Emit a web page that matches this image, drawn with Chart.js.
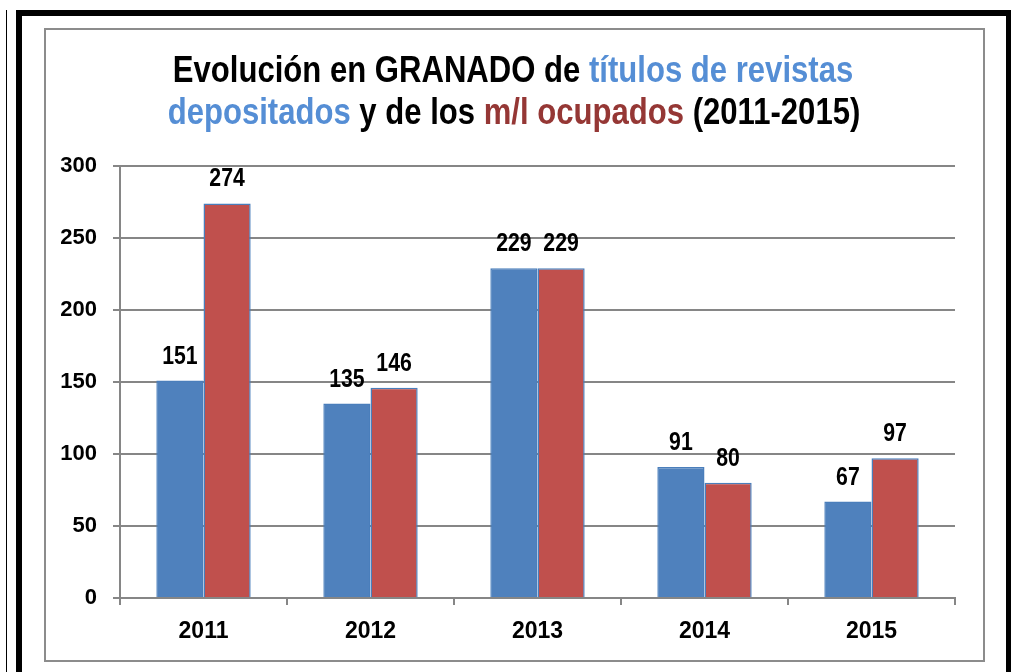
<!DOCTYPE html>
<html>
<head>
<meta charset="utf-8">
<script src="https://cdn.jsdelivr.net/npm/chart.js@4"></script>
<style>
html,body{margin:0;padding:0;background:#fff;}
#wrap{position:relative;width:1011px;height:672px;overflow:hidden;}
canvas{position:absolute;left:0;top:0;}
.b{position:absolute;background:#000;}
#inner{position:absolute;left:44px;top:28px;width:937px;height:630px;border:2px solid #8c8c8c;pointer-events:none;}
</style>
</head>
<body>
<div id="wrap">
<canvas id="c" width="1011" height="672"></canvas>
<div class="b" style="left:6px;top:10px;width:1px;height:662px;"></div>
<div class="b" style="left:16px;top:10px;width:6px;height:662px;"></div>
<div class="b" style="left:16px;top:10px;width:995px;height:6px;"></div>
<div class="b" style="left:1006px;top:10px;width:5px;height:662px;"></div>
<div id="inner"></div>
</div>
<script>
const categories = ['2011','2012','2013','2014','2015'];
const titulos = [151,135,229,91,67];
const metros = [274,146,229,80,97];
const yTicks = [0,50,100,150,200,250,300];
const titleLine1 = [['Evolución en GRANADO de ','#000000'],['títulos de revistas','#558ED5']];
const titleLine2 = [['depositados','#558ED5'],[' y de los ','#000000'],['m/l ocupados','#953735'],[' (2011-2015)','#000000']];

const FONT = '"Liberation Sans Narrow","Arial Narrow","Liberation Sans",Arial,sans-serif';

function drawNarrow(ctx, segs, cx, y, sx){
  const total = segs.reduce((s,x)=>s+ctx.measureText(x[0]).width,0);
  ctx.save();
  ctx.translate(cx, y);
  ctx.scale(sx, 1);
  let x = -total/2;
  segs.forEach(s=>{ctx.fillStyle=s[1];ctx.fillText(s[0],x,0);x+=ctx.measureText(s[0]).width;});
  ctx.restore();
}

const titlePlugin = {
  id:'mtitle',
  afterDraw(chart){
    const ctx = chart.ctx;
    ctx.save();
    ctx.font = 'bold 37px ' + FONT;
    ctx.textBaseline = 'alphabetic';
    ctx.textAlign = 'left';
    drawNarrow(ctx, titleLine1, 513, 82, 0.84);
    drawNarrow(ctx, titleLine2, 514, 124, 0.84);
    ctx.restore();
  }
};
const labelPlugin = {
  id:'vlabels',
  afterDatasetsDraw(chart){
    const ctx = chart.ctx;
    ctx.save();
    ctx.font = 'bold 25px ' + FONT;
    ctx.textAlign = 'left';
    ctx.textBaseline = 'alphabetic';
    chart.data.datasets.forEach((ds,i)=>{
      chart.getDatasetMeta(i).data.forEach((bar,j)=>{
        drawNarrow(ctx, [[String(ds.data[j]),'#000000']], bar.x, bar.y - 17, 0.85);
      });
    });
    ctx.restore();
  }
};

new Chart(document.getElementById('c'), {
  type:'bar',
  data:{
    labels:categories,
    datasets:[
      {label:'títulos de revistas depositados',data:titulos,backgroundColor:'#4F81BD',borderColor:'#4A7EBB',borderWidth:1.5},
      {label:'m/l ocupados',data:metros,backgroundColor:'#C0504D',borderColor:'#4A7EBB',borderWidth:1.5}
    ]
  },
  options:{
    responsive:false,
    animation:false,
    categoryPercentage:0.565,
    barPercentage:1,
    layout:{padding:{left:50,right:56,top:166,bottom:24}},
    plugins:{legend:{display:false},tooltip:{enabled:false},title:{display:false}},
    scales:{
      x:{
        grid:{offset:true,drawOnChartArea:false,color:'#868686',lineWidth:2,tickLength:7},
        border:{color:'#868686',width:2},
        ticks:{color:'#000',font:{family:FONT,size:23,weight:'bold'},padding:13},
        afterFit(s){s.height=50;}
      },
      y:{
        min:0,max:300,
        afterBuildTicks(s){s.ticks=yTicks.map(v=>({value:v}));},
        grid:{color:'#868686',lineWidth:2,tickLength:7},
        border:{color:'#868686',width:2},
        ticks:{color:'#000',font:{family:FONT,size:22,weight:'bold'},padding:16},
        afterFit(s){s.width=70;}
      }
    }
  },
  plugins:[titlePlugin,labelPlugin]
});
</script>
</body>
</html>
